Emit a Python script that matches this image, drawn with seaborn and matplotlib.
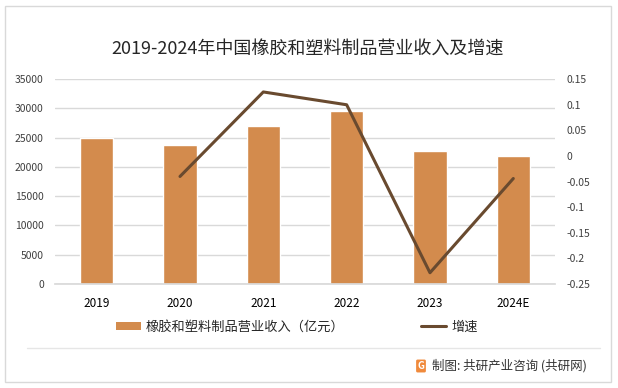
import numpy as np
import pandas as pd
import seaborn as sns
from matplotlib import pyplot as plt
from matplotlib.lines import Line2D
from matplotlib.patches import Patch, Rectangle
from matplotlib.ticker import FuncFormatter

years = ['2019', '2020', '2021', '2022', '2023', '2024E']
revenue = [25000, 23800, 27000, 29600, 22800, 21800]
growth = [np.nan, -0.04, 0.125, 0.10, -0.228, -0.044]

bar_label = '橡胶和塑料制品营业收入（亿元）'
line_label = '增速'
title = '2019-2024年中国橡胶和塑料制品营业收入及增速'
source = '制图: 共研产业咨询 (共研网)'

bar_color = '#D38B4D'
line_color = '#694A2F'


def fmt_growth(v, pos):
    v = round(v, 2)
    if abs(v) < 1e-9:
        v = 0
    return '{:g}'.format(v)


def main():
    sns.set_theme(style='white')
    plt.rcParams['font.family'] = ['Noto Sans CJK SC', 'DejaVu Sans']

    df = pd.DataFrame({'year': years, 'revenue': revenue, 'growth': growth})

    fig = plt.figure(figsize=(6.18, 3.88), dpi=100)
    ax = fig.add_axes([0.089, 0.268, 0.809, 0.528])

    sns.barplot(data=df, x='year', y='revenue', color=bar_color, width=0.4,
                saturation=1, ax=ax)
    ax.set_ylim(0, 35000)
    ax.set_yticks(range(0, 35001, 5000))
    ax.yaxis.grid(True, color='#d9d9d9', linewidth=1)
    ax.set_axisbelow(True)
    ax.set_xlabel('')
    ax.set_ylabel('')
    for s in ['top', 'left', 'right']:
        ax.spines[s].set_visible(False)
    ax.spines['bottom'].set_color('#d9d9d9')
    ax.tick_params(axis='y', labelsize=7.5, colors='#404040', pad=8, length=0)
    ax.tick_params(axis='x', labelsize=8.5, colors='#000000', pad=9, length=0)

    ax2 = ax.twinx()
    sns.lineplot(x=np.arange(len(years)), y=df['growth'], color=line_color,
                 linewidth=2.2, ax=ax2)
    ax2.set_ylim(-0.25, 0.15)
    ax2.set_yticks(np.arange(-0.25, 0.151, 0.05))
    ax2.yaxis.set_major_formatter(FuncFormatter(fmt_growth))
    ax2.set_ylabel('')
    for s in ['top', 'left', 'right', 'bottom']:
        ax2.spines[s].set_visible(False)
    ax2.tick_params(axis='y', labelsize=7.5, colors='#404040', pad=8, length=0)
    ax.set_xlim(-0.5, len(years) - 0.5)

    fig.text(0.497, 1 - 50 / 388, title, ha='center', va='center', fontsize=13)

    handles = [Patch(facecolor=bar_color, edgecolor='none'),
               Line2D([0], [0], color=line_color, linewidth=2.2)]
    fig.legend(handles, [bar_label, line_label], loc='center', ncol=2,
               bbox_to_anchor=(297 / 618, 1 - 327 / 388), frameon=False,
               fontsize=9.5, columnspacing=5.8, handlelength=1.9,
               handleheight=0.5, handletextpad=0.4)

    # separator and border
    fig.add_artist(Line2D([27 / 618, 600 / 618], [1 - 348 / 388] * 2,
                          transform=fig.transFigure, color='#e6e6e6', linewidth=1))
    fig.add_artist(Rectangle((5 / 618, 6 / 388), 606 / 618, 376 / 388,
                             transform=fig.transFigure, fill=False,
                             edgecolor='#d9d9d9', linewidth=1))

    fig.text(421 / 618, 1 - 366 / 388, 'G', ha='center', va='center', fontsize=7,
             color='white', fontweight='bold',
             bbox=dict(boxstyle='round,pad=0.15', facecolor='#F08A3C', edgecolor='none'))
    fig.text(432 / 618, 1 - 366 / 388, source, ha='left', va='center', fontsize=9,
             color='#333333')

    fig.savefig('out.png', dpi=100)


if __name__ == '__main__':
    main()
